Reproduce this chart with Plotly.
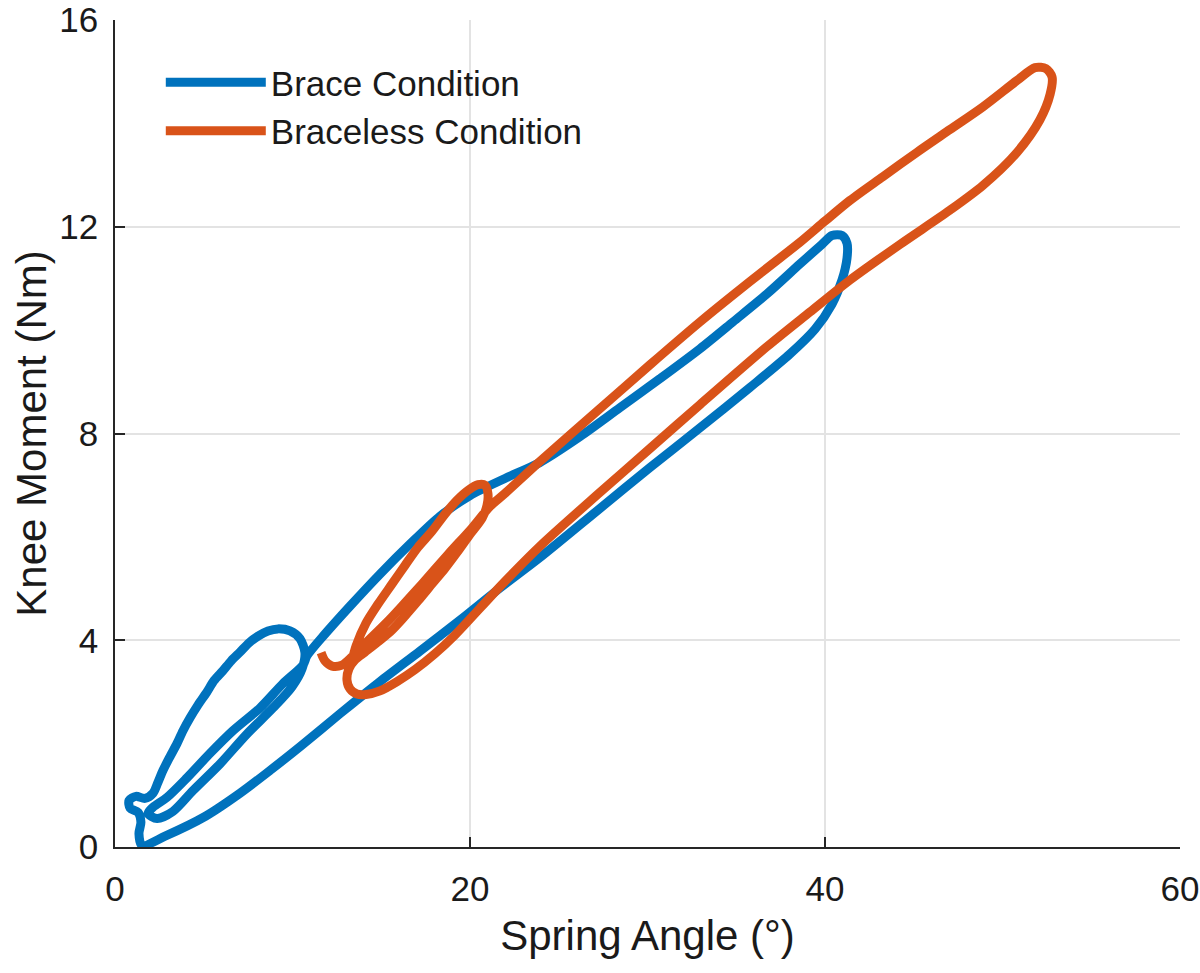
import plotly.graph_objects as go

# ---- Data ----
brace_angle = [
    1.52, 2.82, 5.07, 7.04, 8.73, 10.42, 12.68, 14.93, 17.18, 19.44, 21.69, 23.94,
    27.32, 30.14, 32.96, 35.77, 38.03, 39.44, 40.39, 40.96, 41.24, 41.24, 40.96, 40.39,
    39.83, 38.59, 36.73, 34.82, 32.96, 30.70, 28.45, 26.20, 23.94, 21.97, 20.00,
    18.31, 16.62, 14.93, 13.24, 11.83, 10.82,
    10.59, 9.46, 8.17, 6.65, 5.35, 4.06, 2.93, 2.14,
    1.86, 2.37,
    3.27, 4.39, 5.92, 7.44, 8.90, 9.97, 10.54, 10.70, 10.42, 9.86, 9.18,
    8.62, 8.06, 7.55, 7.04, 6.54, 6.08, 5.58, 5.18, 4.68, 4.23, 3.83, 3.49,
    3.10, 2.70, 2.42, 2.14,
    1.69, 1.18, 0.79, 0.85, 1.30, 1.46, 1.35, 1.52,
]
brace_moment = [
    0.03, 0.21, 0.59, 1.04, 1.48, 1.94, 2.58, 3.20, 3.79, 4.39, 5.01, 5.60,
    6.55, 7.34, 8.11, 8.89, 9.54, 10.02, 10.50, 10.97, 11.39, 11.68, 11.83, 11.83,
    11.66, 11.28, 10.70, 10.16, 9.64, 9.06, 8.50, 7.94, 7.44, 7.13, 6.80,
    6.40, 5.86, 5.28, 4.66, 4.12, 3.70,
    3.52, 3.16, 2.69, 2.25, 1.81, 1.34, 0.96, 0.77,
    0.65, 0.55,
    0.69, 1.09, 1.61, 2.19, 2.69, 3.10, 3.45, 3.76, 4.03, 4.18, 4.22,
    4.18, 4.08, 3.95, 3.77, 3.60, 3.41, 3.22, 3.00, 2.75, 2.50, 2.25, 2.00,
    1.75, 1.48, 1.25, 1.04,
    0.94, 0.98, 0.90, 0.75, 0.67, 0.48, 0.26, 0.03,
]

braceless_angle = [
    13.35, 13.58, 14.14, 14.82, 15.61, 16.34, 17.07, 17.86, 18.59, 19.27, 19.89,
    20.45, 20.85, 21.01, 20.96, 20.68, 20.00, 19.27, 18.59, 17.86, 17.07, 16.34,
    15.61, 14.82, 14.08, 13.52,
    13.18, 13.07, 13.24, 13.63, 14.14, 14.93, 15.89, 16.90, 18.03, 19.15, 20.56,
    21.97, 23.94, 27.32, 30.14, 32.96, 36.73, 39.15, 41.41, 44.23, 47.04, 48.90,
    50.82, 52.11, 52.68, 52.79, 52.45, 51.83,
    50.82, 48.90, 47.04, 45.18, 43.27, 41.41, 40.00, 38.59, 36.73, 34.82, 32.96,
    30.14, 27.32, 23.94, 21.97, 21.13, 20.11, 18.76, 17.30, 16.06, 15.38, 14.08,
    13.35, 12.79, 12.23, 11.83, 11.61,
]
braceless_moment = [
    3.60, 3.89, 4.33, 4.70, 5.09, 5.45, 5.80, 6.11, 6.44, 6.71, 6.90,
    7.01, 7.00, 6.84, 6.61, 6.36, 6.05, 5.70, 5.39, 5.09, 4.76, 4.47,
    4.20, 3.97, 3.77, 3.62,
    3.45, 3.23, 3.06, 2.96, 2.95, 3.02, 3.20, 3.43, 3.74, 4.10, 4.62,
    5.14, 5.82, 6.86, 7.71, 8.56, 9.68, 10.35, 10.97, 11.66, 12.32, 12.80,
    13.44, 14.07, 14.56, 14.90, 15.06, 15.08,
    14.83, 14.32, 13.88, 13.44, 12.97, 12.51, 12.11, 11.70, 11.20, 10.68, 10.16,
    9.33, 8.48, 7.46, 6.84, 6.59, 6.17, 5.66, 5.09, 4.62, 4.37, 3.93,
    3.68, 3.52, 3.50, 3.60, 3.76,
]

x_ticks = [0, 20, 40, 60]
y_ticks = [0, 4, 8, 12, 16]

BLUE = "#0072BD"
ORANGE = "#D95319"
FONT = "Liberation Sans, Arial, Helvetica, sans-serif"
TXT = "#1a1a1a"

fig = go.Figure()
fig.add_trace(go.Scatter(
    x=brace_angle, y=brace_moment, mode="lines", name="Brace Condition",
    line=dict(color=BLUE, width=9, shape="spline", smoothing=0.8),
))
fig.add_trace(go.Scatter(
    x=braceless_angle, y=braceless_moment, mode="lines", name="Braceless Condition",
    line=dict(color=ORANGE, width=9, shape="spline", smoothing=0.8),
))

axis_common = dict(
    showgrid=True, gridcolor="#e3e3e3", gridwidth=1.5,
    zeroline=False, showline=True, linecolor="#262626", linewidth=1.5,
    ticks="inside", ticklen=10, tickwidth=1.5, tickcolor="#262626",
    tickfont=dict(family=FONT, size=35, color=TXT),
    mirror=False, automargin=False, ticklabeloverflow="allow",
)

fig.update_layout(
    width=1200, height=973,
    margin=dict(l=115, r=20, t=20, b=126),
    paper_bgcolor="white", plot_bgcolor="white",
    font=dict(family=FONT, color=TXT),
    xaxis=dict(
        range=[0, 60], tickvals=x_ticks, ticktext=[str(v) for v in x_ticks],
        title=dict(text="Spring Angle (°)", font=dict(family=FONT, size=42, color=TXT), standoff=14),
        ticklabelstandoff=10,
        **axis_common,
    ),
    yaxis=dict(
        range=[0, 16], tickvals=y_ticks, ticktext=[str(v) for v in y_ticks],
        title=dict(text="Knee Moment (Nm)", font=dict(family=FONT, size=42, color=TXT), standoff=0),
        ticklabelstandoff=8,
        **axis_common,
    ),
    legend=dict(
        x=0.043, y=0.96, xanchor="left", yanchor="top",
        bgcolor="rgba(0,0,0,0)", borderwidth=0,
        font=dict(family=FONT, size=35, color=TXT),
        itemwidth=100, tracegroupgap=0,
    ),
    showlegend=True,
)

# remove the default page margin so the 1200x973 figure fills the window exactly
fig.write_html(
    "out.html",
    config={"displayModeBar": False},
    post_script="document.body.style.margin='0';document.body.style.overflow='hidden';",
)
